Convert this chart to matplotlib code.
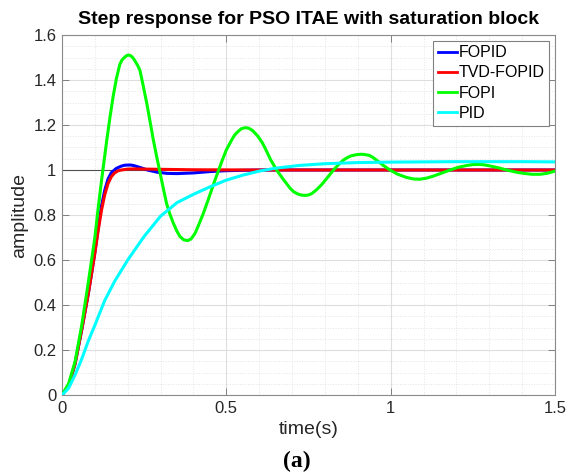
import numpy as np
import matplotlib
matplotlib.use("Agg")
import matplotlib.pyplot as plt
from matplotlib.ticker import MultipleLocator

# ---- data ----
t_fopid = [0, 0.02, 0.04, 0.06, 0.08, 0.09, 0.10, 0.11, 0.12, 0.13, 0.14, 0.15, 0.165, 0.18,
           0.19, 0.20, 0.21, 0.22, 0.24, 0.26, 0.29, 0.32, 0.35, 0.40, 0.45, 0.50, 0.60, 1.0, 1.5]
y_fopid = [0, 0.04, 0.14, 0.29, 0.45, 0.54, 0.635, 0.74, 0.84, 0.91, 0.96, 0.988, 1.007, 1.017,
           1.021, 1.022, 1.022, 1.019, 1.01, 1.0, 0.99, 0.985, 0.984, 0.987, 0.993, 0.997, 1.0,
           1.0, 1.0]

t_tvd = [0, 0.02, 0.04, 0.06, 0.08, 0.09, 0.10, 0.11, 0.12, 0.13, 0.14, 0.15, 0.16, 0.17,
         0.18, 0.20, 0.22, 0.25, 0.30, 0.40, 0.60, 1.0, 1.5]
y_tvd = [0, 0.04, 0.14, 0.29, 0.45, 0.54, 0.63, 0.73, 0.82, 0.89, 0.94, 0.97, 0.987, 0.996,
         1.0, 1.004, 1.005, 1.004, 1.003, 1.001, 1.0, 1.0, 1.0]

t_fopi = [0, 0.02, 0.04, 0.06, 0.08, 0.10, 0.11, 0.12, 0.128, 0.136, 0.146, 0.156, 0.166,
          0.176, 0.183, 0.19, 0.195, 0.202, 0.209, 0.215, 0.222, 0.23, 0.237, 0.247, 0.258,
          0.268, 0.278, 0.288, 0.298, 0.308, 0.318, 0.328, 0.339, 0.349, 0.359, 0.37, 0.382,
          0.393, 0.405, 0.417, 0.43, 0.443, 0.455, 0.465, 0.475, 0.488, 0.50, 0.516, 0.525,
          0.535, 0.545, 0.557, 0.568, 0.58, 0.595, 0.61, 0.622, 0.635, 0.653, 0.675, 0.694,
          0.705, 0.72, 0.73, 0.74, 0.75, 0.76, 0.775, 0.79, 0.808, 0.826, 0.842, 0.856, 0.868,
          0.88, 0.895, 0.91, 0.92, 0.935, 0.946, 0.957, 0.978, 0.998, 1.02, 1.048, 1.07, 1.089,
          1.11, 1.13, 1.155, 1.181, 1.205, 1.231, 1.25, 1.267, 1.285, 1.312, 1.33, 1.353, 1.38,
          1.404, 1.43, 1.455, 1.475, 1.5]
y_fopi = [0, 0.05, 0.15, 0.31, 0.50, 0.70, 0.83, 0.95, 1.04, 1.13, 1.235, 1.33, 1.41,
          1.47, 1.49, 1.50, 1.507, 1.511, 1.508, 1.50, 1.485, 1.465, 1.444, 1.375, 1.296,
          1.215, 1.133, 1.06, 0.99, 0.92, 0.852, 0.805, 0.763, 0.73, 0.704, 0.69, 0.686,
          0.694, 0.719, 0.76, 0.807, 0.86, 0.911, 0.953, 0.993, 1.045, 1.089, 1.133, 1.155,
          1.17, 1.183, 1.188, 1.186, 1.175, 1.152, 1.12, 1.085, 1.045, 1.0, 0.955, 0.919,
          0.903, 0.892, 0.888, 0.887, 0.889, 0.895, 0.913, 0.935, 0.967, 1.0, 1.025, 1.044, 1.055,
          1.063, 1.068, 1.07, 1.069, 1.065, 1.056, 1.044, 1.02, 1.0, 0.982, 0.967, 0.96, 0.959,
          0.964, 0.973, 0.986, 1.0, 1.012, 1.02, 1.024, 1.025, 1.023, 1.015, 1.009, 1.0, 0.991,
          0.985, 0.981, 0.981, 0.985, 0.995]

t_pid = [0, 0.02, 0.04, 0.06, 0.08, 0.10, 0.13, 0.16, 0.20, 0.25, 0.30, 0.35, 0.40, 0.45,
         0.50, 0.55, 0.60, 0.65, 0.72, 0.80, 0.90, 1.0, 1.1, 1.2, 1.3, 1.4, 1.5]
y_pid = [0, 0.03, 0.09, 0.16, 0.24, 0.31, 0.42, 0.505, 0.60, 0.705, 0.795, 0.855, 0.892, 0.925,
         0.955, 0.977, 0.995, 1.008, 1.02, 1.028, 1.033, 1.035, 1.036, 1.037, 1.037, 1.037, 1.036]

labels = ["FOPID", "TVD-FOPID", "FOPI", "PID"]
colors = ["#0000ff", "#ff0000", "#00ff00", "#00ffff"]
xticks = [0, 0.5, 1, 1.5]
xticklabels = ["0", "0.5", "1", "1.5"]
yticks = [0, 0.2, 0.4, 0.6, 0.8, 1.0, 1.2, 1.4, 1.6]
yticklabels = ["0", "0.2", "0.4", "0.6", "0.8", "1", "1.2", "1.4", "1.6"]

plt.rcParams["font.family"] = ["Liberation Sans", "DejaVu Sans"]

fig = plt.figure(figsize=(5.66, 4.76), dpi=100)
ax = fig.add_axes([62 / 566, 1 - 395 / 476, (555 - 62) / 566, (395 - 35) / 476])

series = [(t_fopid, y_fopid), (t_tvd, y_tvd), (t_fopi, y_fopi), (t_pid, y_pid)]
for (t, y), lab, c in zip(series, labels, colors):
    ax.plot(t, y, color=c, lw=2.2, label=lab, zorder=3, solid_joinstyle="round")

ax.axhline(1.0, color="#505050", lw=0.8, zorder=2)

ax.set_xlim(0, 1.5)
ax.set_ylim(0, 1.6)
ax.set_xticks(xticks)
ax.set_xticklabels(xticklabels)
ax.set_yticks(yticks)
ax.set_yticklabels(yticklabels)
ax.xaxis.set_minor_locator(MultipleLocator(0.1))
ax.yaxis.set_minor_locator(MultipleLocator(0.05))
ax.grid(True, which="major", color="#dedede", lw=0.8, ls="-", zorder=0)
ax.grid(True, which="minor", color="#e4e4e4", lw=0.7, ls=":", zorder=0)
ax.set_axisbelow(True)

ax.tick_params(which="major", direction="in", length=5, width=0.7, color="#808080",
               labelsize=12, labelcolor="#262626", top=True, right=True, pad=4)
ax.tick_params(which="minor", length=0)
for s in ax.spines.values():
    s.set_color("#8a8a8a")
    s.set_linewidth(0.8)

ax.set_title("Step response for PSO ITAE with saturation block", fontsize=14,
             fontweight="bold", pad=8)
ax.set_xlabel("time(s)", fontsize=14, color="#262626", labelpad=4)
ax.set_ylabel("amplitude", fontsize=14, color="#262626", labelpad=4)

leg = ax.legend(loc="upper right", fontsize=11.5, handlelength=1.2, handletextpad=0.1,
                borderpad=0.3, labelspacing=0.32, borderaxespad=0.35, fancybox=False,
                framealpha=1, edgecolor="#808080")
leg.get_frame().set_linewidth(0.8)
for line in leg.get_lines():
    line.set_linewidth(2.0)

fig.text(297 / 566, 1 - 461 / 476, "(a)", fontsize=17, fontweight="bold",
         family=["Liberation Serif", "DejaVu Serif"], ha="center", va="center")

fig.savefig("out.png", dpi=100)
